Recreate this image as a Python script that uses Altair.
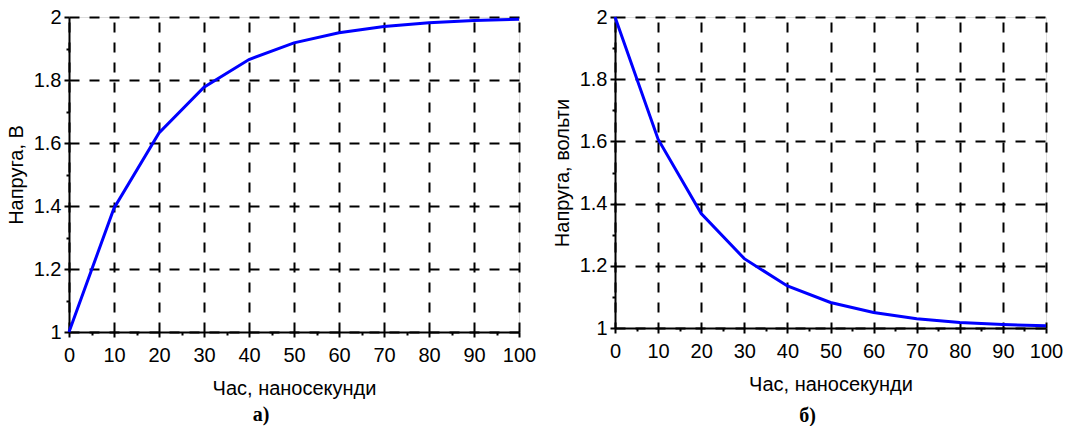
import altair as alt
import pandas as pd

# data
t_ns = [0, 10, 20, 30, 40, 50, 60, 70, 80, 90, 100]
v_charge = [1.0, 1.393, 1.632, 1.777, 1.865, 1.918, 1.950, 1.970, 1.982, 1.989, 1.993]
v_discharge = [2.0, 1.607, 1.368, 1.223, 1.135, 1.082, 1.050, 1.030, 1.018, 1.011, 1.007]

x_ticks = [0, 5, 10, 15, 20, 25, 30, 35, 40, 45, 50, 55, 60, 65, 70, 75, 80, 85, 90, 95, 100]
y_ticks = [1.0, 1.1, 1.2, 1.3, 1.4, 1.5, 1.6, 1.7, 1.8, 1.9, 2.0]

x_title = "Час, наносекунди"
y_title_a = "Напруга, В"
y_title_b = "Напруга, вольти"
panel_a = "а)"
panel_b = "б)"

FONT = "Liberation Sans"
FS = 20

x_major = "datum.value % 10 == 0"
y_major = "round(datum.value * 10) % 2 == 0"


def x_axis():
    return alt.Axis(
        values=x_ticks, title=x_title, format="~r",
        labelExpr=f"{x_major} ? datum.label : ''",
        tickSize={"condition": {"test": x_major, "value": 5}, "value": 3},
        gridOpacity={"condition": {"test": x_major, "value": 1}, "value": 0},
        grid=True, gridDash=[10, 10], gridDashOffset=15, gridColor="black", gridWidth=2,
        domainColor="black", domainWidth=2, tickColor="black", tickWidth=2,
        labelFont=FONT, labelFontSize=FS, labelColor="black", labelPadding=8,
        labelFlush=False, labelOverlap=False,
        titleFont=FONT, titleFontSize=FS, titleFontWeight="normal", titleColor="black",
        titlePadding=13,
    )


def y_axis(title):
    return alt.Axis(
        values=y_ticks, title=title, format="~r",
        labelExpr=f"{y_major} ? datum.label : ''",
        tickSize={"condition": {"test": y_major, "value": 5}, "value": 3},
        gridOpacity={"condition": {"test": y_major, "value": 1}, "value": 0},
        grid=True, gridDash=[10, 10], gridColor="black", gridWidth=2,
        domainColor="black", domainWidth=2, tickColor="black", tickWidth=2,
        labelFont=FONT, labelFontSize=FS, labelColor="black", labelPadding=3,
        labelFlush=False, labelOverlap=False,
        titleFont=FONT, titleFontSize=FS, titleFontWeight="normal", titleColor="black",
        titlePadding=7,
    )


def panel(values, ytitle, label, w, h, dx, off):
    df = pd.DataFrame({"t": t_ns, "v": values})
    return (
        alt.Chart(df)
        .mark_line(color="#0000ff", strokeWidth=3)
        .encode(
            x=alt.X("t:Q", scale=alt.Scale(domain=[0, 100], nice=False), axis=x_axis()),
            y=alt.Y("v:Q", scale=alt.Scale(domain=[1, 2], nice=False, zero=False), axis=y_axis(ytitle)),
        )
        .properties(
            width=w, height=h,
            title=alt.TitleParams(
                label, orient="bottom", anchor="middle", frame="group", dx=dx,
                font="Liberation Serif", fontSize=20, fontWeight="bold",
                color="black", offset=off,
            ),
        )
    )


left = panel(v_charge, y_title_a, panel_a, 450, 315, -33, 7)
right = panel(v_discharge, y_title_b, panel_b, 431, 311, -23, 12)

chart = (
    alt.hconcat(left, right, spacing=14)
    .properties(padding={"left": 5, "top": 6, "right": 0, "bottom": 0})
    .configure_view(stroke="black", strokeWidth=2)
    .configure(background="white")
)

chart.save("out.html", embed_options={"renderer": "svg", "actions": False})
